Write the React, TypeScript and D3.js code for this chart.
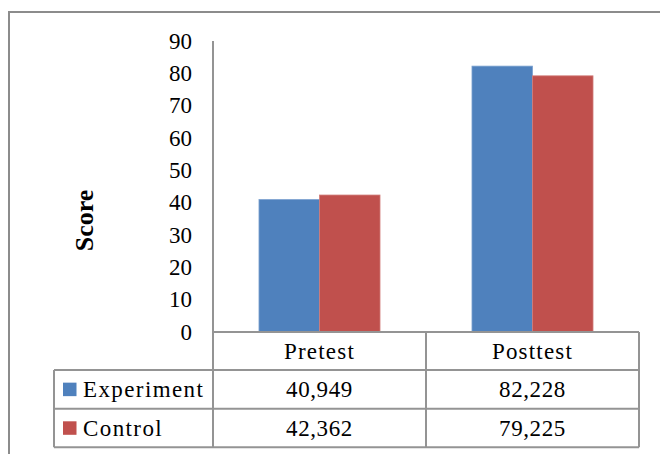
import React from "react";
import * as d3 from "d3";

const categories = ["Pretest", "Posttest"];
const seriesNames = ["Experiment", "Control"];
const experiment = [40.949, 82.228];
const control = [42.362, 79.225];
const yTicks = [0, 10, 20, 30, 40, 50, 60, 70, 80, 90];
const yTitle = "Score";

const colors = ["#4F81BD", "#C0504D"];
const edgeColors = ["#7aa0cf", "#d17d7a"];

export default function App() {
  const W = 660, H = 454;
  const series = [experiment, control];
  const y = d3.scaleLinear().domain([0, 90]).range([332, 41]);
  const x0 = d3.scaleBand<string>().domain(categories).range([213, 639]).padding(0);
  const x1 = d3
    .scaleBand<string>()
    .domain(seriesNames)
    .range([0, x0.bandwidth()])
    .paddingInner(0)
    .paddingOuter(0.76);
  const fmt = (v: number) => d3.format(".3f")(v).replace(".", ",");
  const fontStyle = { fontFamily: "'Liberation Serif', 'Times New Roman', serif" };
  const fs = 23;
  const grid = "#949494";
  const tableLeft = 54;
  const tableRight = x0.range()[1];
  const rowTops = [332, 370, 408.7, 447.3];

  return (
    <svg
      width={W}
      height={H}
      style={{ position: "absolute", left: 0, top: 0, background: "#fff", ...fontStyle }}
    >
      <rect x={0} y={0} width={W} height={H} fill="#fff" />
      {/* outer frame */}
      <rect x={9} y={12} width={W + 20} height={H + 20} fill="none" stroke="#8c8c8c" strokeWidth={2} />

      {/* bars */}
      {categories.map((c, i) =>
        seriesNames.map((s, j) => {
          const v = series[j][i];
          const bx = (x0(c) as number) + (x1(s) as number);
          return (
            <rect
              key={c + s}
              x={bx}
              y={y(v)}
              width={x1.bandwidth()}
              height={y(0) - y(v)}
              fill={colors[j]}
              stroke={edgeColors[j]}
              strokeWidth={0.8}
            />
          );
        })
      )}

      {/* y axis tick labels */}
      {yTicks.map((t) => (
        <text
          key={t}
          x={192}
          y={y(t)}
          dy="0.34em"
          textAnchor="end"
          fontSize={fs}
          fill="#000"
          style={fontStyle}
        >
          {t}
        </text>
      ))}
      <text
        transform={`translate(93,220.5) rotate(-90)`}
        textAnchor="middle"
        fontSize={26}
        fontWeight="bold"
        fill="#000"
        style={fontStyle}
      >
        {yTitle}
      </text>

      {/* data table lines */}
      <g stroke={grid} strokeWidth={2} fill="none">
        <line x1={213} y1={y(90)} x2={213} y2={rowTops[3]} />
        <line x1={213} y1={rowTops[0]} x2={tableRight} y2={rowTops[0]} />
        <line x1={tableLeft} y1={rowTops[1]} x2={tableRight} y2={rowTops[1]} />
        <line x1={tableLeft} y1={rowTops[2]} x2={tableRight} y2={rowTops[2]} />
        <line x1={tableLeft} y1={rowTops[3]} x2={tableRight} y2={rowTops[3]} />
        <line x1={tableLeft} y1={rowTops[1]} x2={tableLeft} y2={rowTops[3]} />
        {categories.map((c) => {
          const xr = (x0(c) as number) + x0.bandwidth();
          return <line key={c} x1={xr} y1={rowTops[0]} x2={xr} y2={rowTops[3]} />;
        })}
      </g>

      {/* header */}
      {categories.map((c) => (
        <text
          key={c}
          x={(x0(c) as number) + x0.bandwidth() / 2}
          y={(rowTops[0] + rowTops[1]) / 2}
          dy="0.34em"
          textAnchor="middle"
          fontSize={fs}
          letterSpacing={1.2}
          style={fontStyle}
        >
          {c}
        </text>
      ))}

      {/* rows */}
      {seriesNames.map((s, j) => {
        const cy = (rowTops[j + 1] + rowTops[j + 2]) / 2;
        return (
          <g key={s}>
            <rect x={63} y={cy - 6.7} width={13.5} height={13.5} fill={colors[j]} />
            <text x={83} y={cy} dy="0.34em" fontSize={fs} letterSpacing={1.4} style={fontStyle}>
              {s}
            </text>
            {categories.map((c, i) => (
              <text
                key={c}
                x={(x0(c) as number) + x0.bandwidth() / 2}
                y={cy}
                dy="0.34em"
                textAnchor="middle"
                fontSize={fs}
                letterSpacing={0.6}
                style={fontStyle}
              >
                {fmt(series[j][i])}
              </text>
            ))}
          </g>
        );
      })}
    </svg>
  );
}
